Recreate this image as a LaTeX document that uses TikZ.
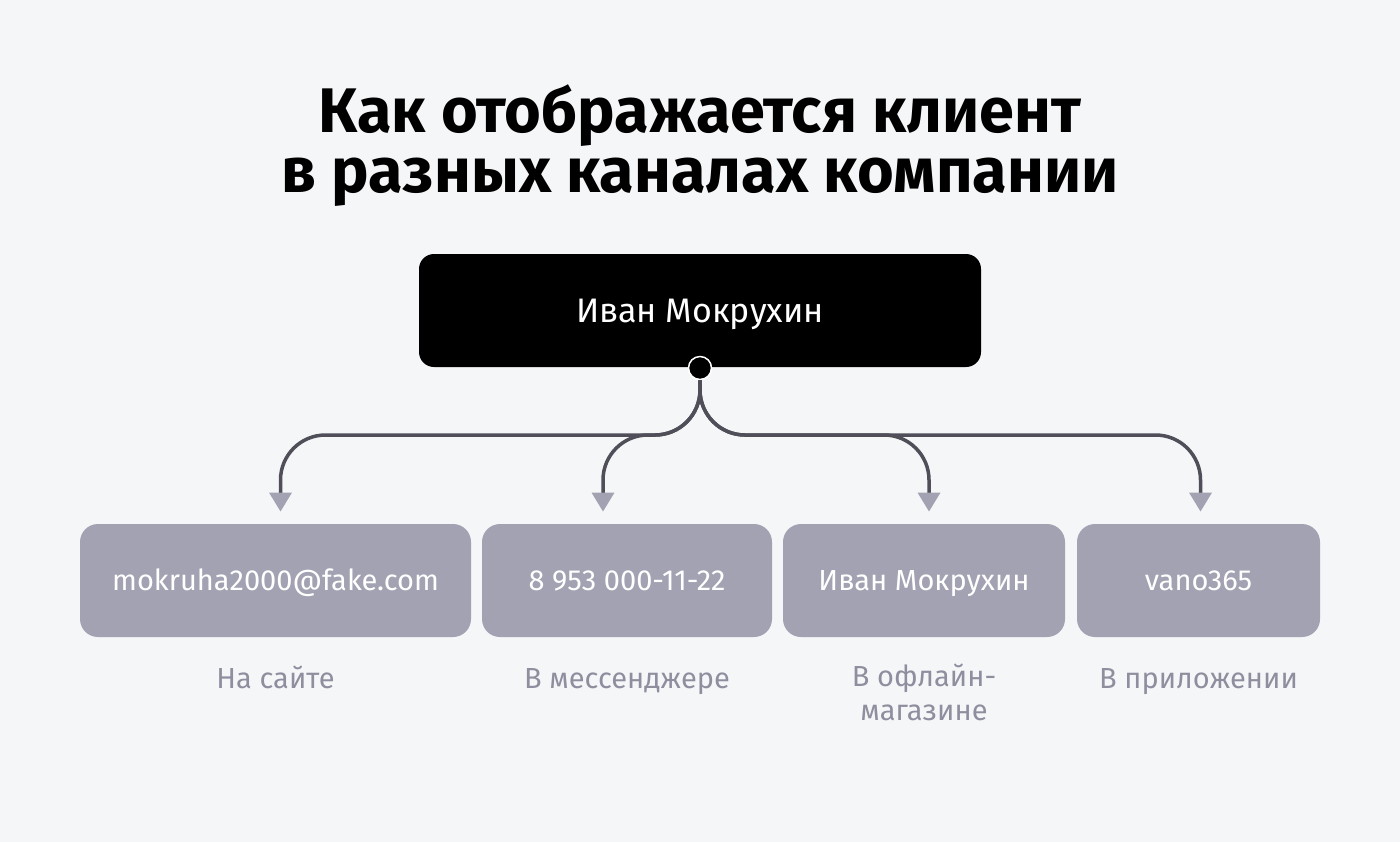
\documentclass[tikz,border=0pt]{standalone}
\usepackage{fontspec}
\setmainfont{Fira Sans}
\usetikzlibrary{arrows.meta,positioning}
\definecolor{PageBack}{HTML}{F5F6F8}
\definecolor{BoxGray}{HTML}{A3A2B3}
\definecolor{LineDark}{HTML}{4F4E59}
\definecolor{CapGray}{HTML}{8F8E9F}
\tikzset{>=Stealth,every node/.style={inner sep=0pt},chan/.style={fill=BoxGray,
 rounded corners=9pt,minimum height=56.5pt,text=white,text height=10pt,text depth=0pt,
 font=\fontsize{14.5}{17}\selectfont},
 where/.style={text=CapGray,align=center,text height=10pt,text depth=0pt,
 font=\fontsize{14.5}{17}\selectfont}}
\begin{document}
\begin{tikzpicture}[x=0.5pt,y=-0.5pt,
 link/.style={draw=LineDark,line width=1.75pt,rounded corners=22.5pt,
 -{Triangle[width=11pt,length=9.5pt,fill=BoxGray,color=BoxGray]}}]
\fill[PageBack] (0,0) rectangle (1400,842);
\node[font=\fontsize{31.5}{30}\selectfont\bfseries,align=center] (title) at (700,146)
 {Как отображается клиент\\в разных каналах компании};
\node[fill=black,text=white,rounded corners=7.5pt,minimum width=281pt,minimum height=56.5pt,
 text height=11.7pt,text depth=0pt,font=\fontsize{17}{20}\selectfont] (client) at (700,310.5)
 {Иван Мокрухин};
\node[circle,fill=black,draw=white,line width=.75pt,minimum size=11.5pt] (dot) at (700,368) {};
\node[chan,minimum width=195.5pt] (web) at (275.5,580.5) {mokruha2000@fake.com};
\node[chan,minimum width=145pt] (msg) at (627,580.5) {8 953 000-11-22};
\node[chan,minimum width=141pt] (shop) at (924,580.5) {Иван Мокрухин};
\node[chan,minimum width=121.5pt] (app) at (1198.5,580.5) {vano365};
\node[where] (webcap) at (275.5,678) {На сайте};
\node[where] (msgcap) at (627,678) {В мессенджере};
\node[where,text height={},text depth={},anchor=north] (shopcap) at (924,664)
 {В офлайн-\\магазине};
\node[where] (appcap) at (1198.5,678) {В приложении};
\coordinate (fork) at (700,435);
\draw[link] (dot.south)--(fork)-|([xshift=2.5pt,yshift=6pt]web.north);
\draw[link] (dot.south)--(fork)-|([xshift=-12pt,yshift=6pt]msg.north);
\draw[link] (dot.south)--(fork)-|([xshift=2.5pt,yshift=6pt]shop.north);
\draw[link] (dot.south)--(fork)-|([xshift=1pt,yshift=6pt]app.north);
\end{tikzpicture}
\end{document}
